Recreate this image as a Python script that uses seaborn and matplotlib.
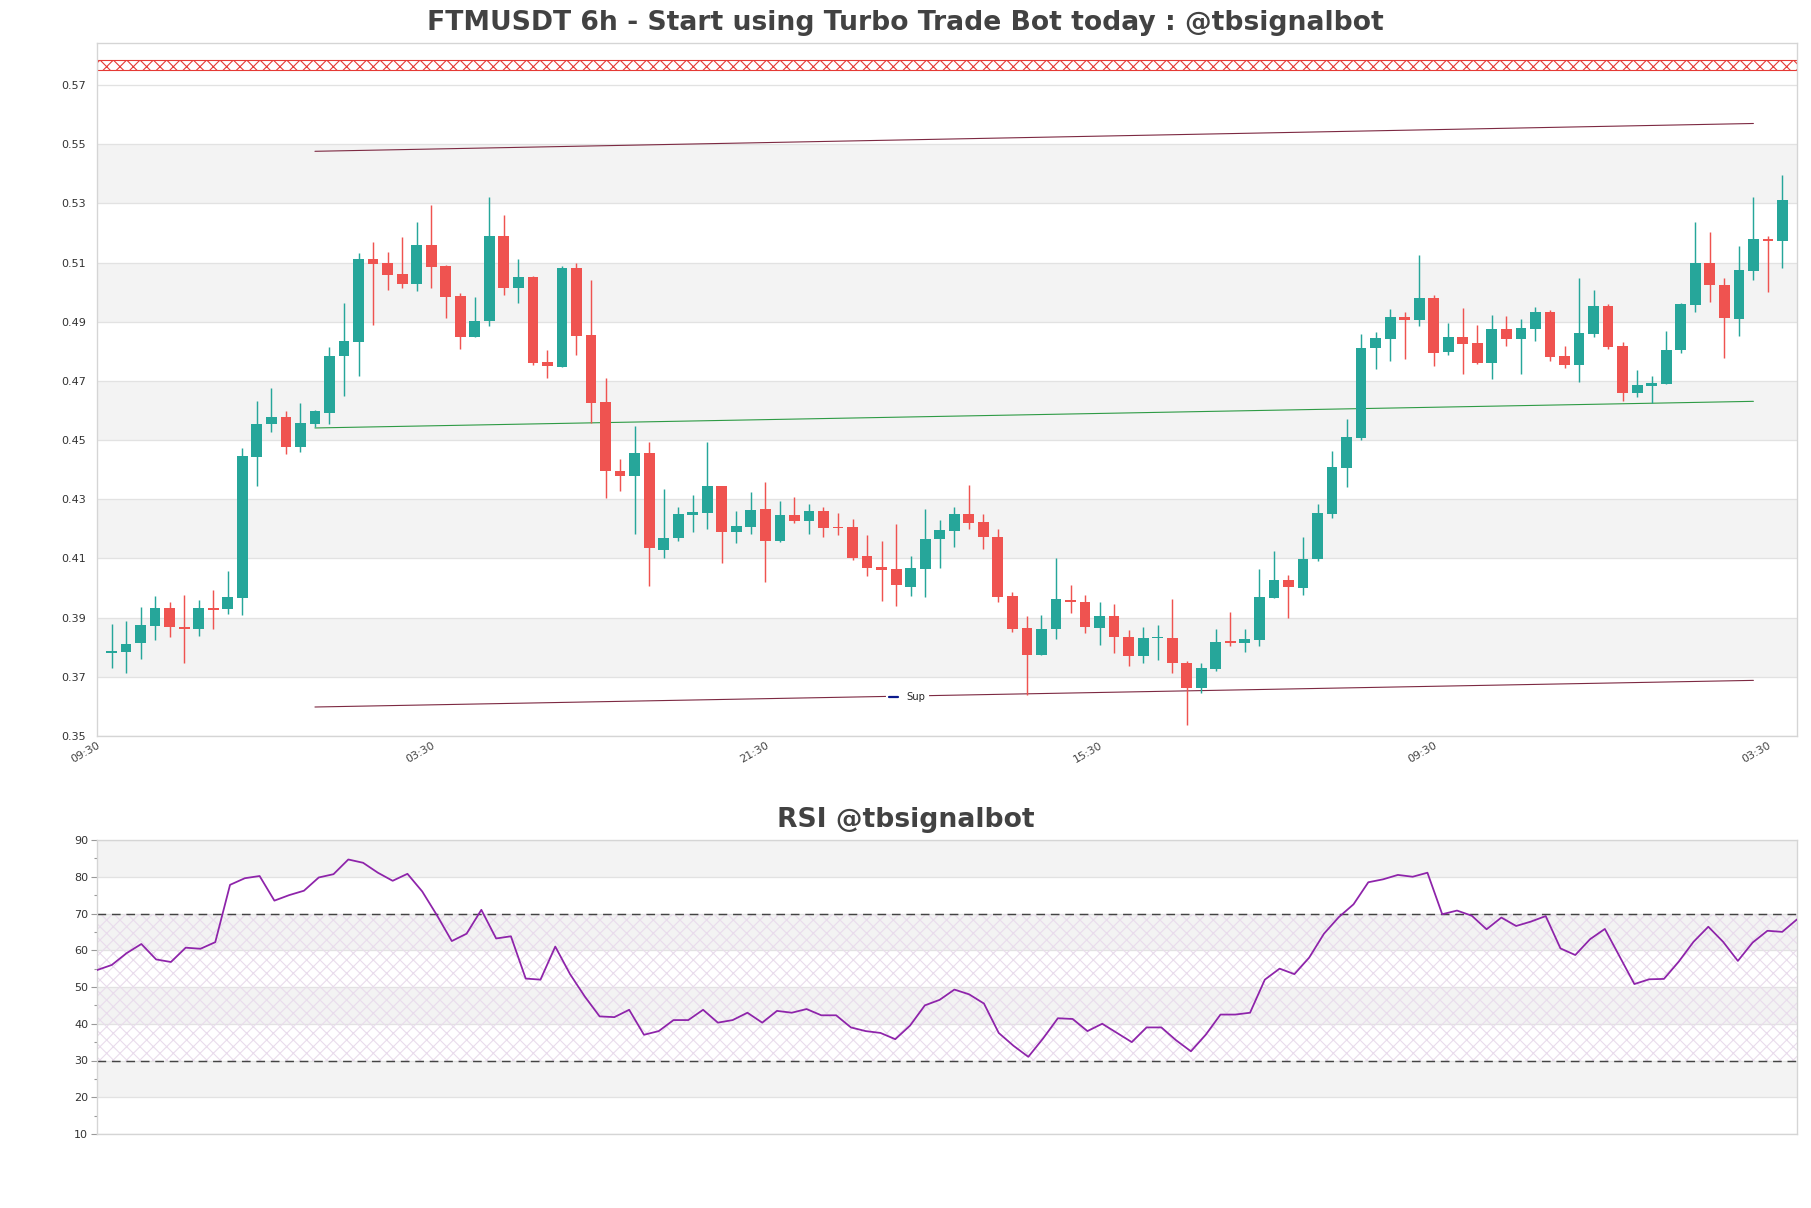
import numpy as np
import pandas as pd
import matplotlib
matplotlib.use("Agg")
import matplotlib.pyplot as plt
import seaborn as sns

sns.set_theme(style="white")
plt.rcParams['font.family'] = ['DejaVu Sans']

# ---------------- data ----------------
opens = [0.3779, 0.3785, 0.3813, 0.3873, 0.3931, 0.3870, 0.3860, 0.3933, 0.3928, 0.3968,
         0.4444, 0.4553, 0.4579, 0.4475, 0.4555, 0.4593, 0.4783, 0.4833, 0.5113, 0.5099,
         0.5061, 0.5029, 0.5160, 0.5089, 0.4988, 0.4850, 0.4903, 0.5190, 0.5013, 0.5051,
         0.4764, 0.4748, 0.5081, 0.4855, 0.4629, 0.4396, 0.4380, 0.4456, 0.4130, 0.4168,
         0.4248, 0.4255, 0.4345, 0.4191, 0.4206, 0.4268, 0.4160, 0.4248, 0.4225, 0.4260,
         0.4206, 0.4206, 0.4109, 0.4071, 0.4063, 0.4005, 0.4066, 0.4165, 0.4194, 0.4250,
         0.4223, 0.4173, 0.3974, 0.3865, 0.3775, 0.3860, 0.3960, 0.3953, 0.3866, 0.3905,
         0.3835, 0.3769, 0.3830, 0.3830, 0.3748, 0.3663, 0.3728, 0.3821, 0.3813, 0.3825,
         0.3968, 0.4028, 0.4000, 0.4099, 0.4250, 0.4406, 0.4508, 0.4811, 0.4841, 0.4916,
         0.4906, 0.4980, 0.4798, 0.4850, 0.4829, 0.4760, 0.4875, 0.4840, 0.4876, 0.4934,
         0.4784, 0.4755, 0.4860, 0.4954, 0.4818, 0.4660, 0.4683, 0.4690, 0.4803, 0.4958,
         0.5099, 0.5024, 0.4910, 0.5073, 0.5180, 0.5173]
highs = [0.3879, 0.3889, 0.3936, 0.3974, 0.3953, 0.3975, 0.3959, 0.3994, 0.4058, 0.4473,
         0.4633, 0.4676, 0.4600, 0.4624, 0.4603, 0.4816, 0.4964, 0.5131, 0.5169, 0.5136,
         0.5186, 0.5238, 0.5295, 0.5092, 0.4998, 0.4984, 0.5320, 0.5261, 0.5113, 0.5056,
         0.4805, 0.5089, 0.5098, 0.5041, 0.4710, 0.4436, 0.4548, 0.4494, 0.4335, 0.4275,
         0.4313, 0.4494, 0.4345, 0.4259, 0.4325, 0.4359, 0.4294, 0.4309, 0.4284, 0.4275,
         0.4254, 0.4235, 0.4180, 0.4160, 0.4218, 0.4109, 0.4268, 0.4230, 0.4275, 0.4349,
         0.4250, 0.4200, 0.3985, 0.3905, 0.3908, 0.4101, 0.4010, 0.3975, 0.3953, 0.3945,
         0.3859, 0.3869, 0.3875, 0.3963, 0.3754, 0.3748, 0.3861, 0.3920, 0.3861, 0.4063,
         0.4126, 0.4044, 0.4173, 0.4284, 0.4463, 0.4571, 0.4860, 0.4865, 0.4943, 0.4934,
         0.5125, 0.4990, 0.4896, 0.4946, 0.4888, 0.4923, 0.4920, 0.4909, 0.4950, 0.4940,
         0.4818, 0.5048, 0.5008, 0.4960, 0.4831, 0.4738, 0.4716, 0.4869, 0.4964, 0.5238,
         0.5204, 0.5048, 0.5156, 0.5320, 0.5190, 0.5396]
lows = [0.3731, 0.3714, 0.3761, 0.3825, 0.3833, 0.3746, 0.3839, 0.3863, 0.3913, 0.3910,
        0.4345, 0.4528, 0.4454, 0.4461, 0.4545, 0.4553, 0.4650, 0.4715, 0.4888, 0.5006,
        0.5015, 0.5003, 0.5013, 0.4913, 0.4809, 0.4850, 0.4884, 0.4991, 0.4964, 0.4755,
        0.4711, 0.4748, 0.4789, 0.4558, 0.4306, 0.4329, 0.4184, 0.4006, 0.4103, 0.4159,
        0.4188, 0.4198, 0.4086, 0.4153, 0.4184, 0.4019, 0.4156, 0.4221, 0.4184, 0.4173,
        0.4180, 0.4096, 0.4040, 0.3956, 0.3941, 0.3973, 0.3971, 0.4068, 0.4140, 0.4198,
        0.4131, 0.3953, 0.3850, 0.3638, 0.3773, 0.3829, 0.3916, 0.3848, 0.3809, 0.3779,
        0.3735, 0.3746, 0.3756, 0.3713, 0.3538, 0.3646, 0.3719, 0.3803, 0.3784, 0.3803,
        0.3968, 0.3900, 0.3975, 0.4090, 0.4238, 0.4340, 0.4500, 0.4740, 0.4768, 0.4775,
        0.4886, 0.4750, 0.4788, 0.4725, 0.4758, 0.4708, 0.4818, 0.4725, 0.4835, 0.4768,
        0.4744, 0.4696, 0.4850, 0.4809, 0.4633, 0.4644, 0.4625, 0.4688, 0.4794, 0.4934,
        0.4968, 0.4779, 0.4853, 0.5040, 0.4999, 0.5083]
closes = [0.3788, 0.3811, 0.3875, 0.3931, 0.3869, 0.3860, 0.3931, 0.3926, 0.3969, 0.4446,
          0.4555, 0.4579, 0.4478, 0.4558, 0.4599, 0.4784, 0.4835, 0.5113, 0.5096, 0.5059,
          0.5029, 0.5160, 0.5086, 0.4985, 0.4850, 0.4903, 0.5190, 0.5015, 0.5051, 0.4760,
          0.4750, 0.5081, 0.4853, 0.4626, 0.4394, 0.4380, 0.4456, 0.4134, 0.4168, 0.4250,
          0.4256, 0.4345, 0.4190, 0.4210, 0.4265, 0.4160, 0.4248, 0.4225, 0.4260, 0.4204,
          0.4203, 0.4100, 0.4069, 0.4060, 0.4009, 0.4068, 0.4166, 0.4196, 0.4250, 0.4221,
          0.4171, 0.3971, 0.3863, 0.3775, 0.3860, 0.3963, 0.3953, 0.3870, 0.3905, 0.3834,
          0.3771, 0.3830, 0.3832, 0.3748, 0.3663, 0.3730, 0.3819, 0.3815, 0.3828, 0.3970,
          0.4028, 0.4005, 0.4099, 0.4254, 0.4409, 0.4510, 0.4811, 0.4845, 0.4916, 0.4906,
          0.4980, 0.4796, 0.4850, 0.4826, 0.4760, 0.4875, 0.4840, 0.4879, 0.4934, 0.4781,
          0.4755, 0.4863, 0.4954, 0.4816, 0.4660, 0.4686, 0.4693, 0.4805, 0.4960, 0.5099,
          0.5023, 0.4914, 0.5075, 0.5180, 0.5173, 0.5311]

rsi = [54.6, 56.0, 59.2, 61.7, 57.5, 56.8, 60.7, 60.4, 62.2, 77.8,
       79.6, 80.2, 73.5, 75.0, 76.2, 79.8, 80.7, 84.7, 83.8, 81.1,
       78.9, 80.8, 76.0, 69.5, 62.5, 64.5, 71.0, 63.2, 63.8, 52.3,
       52.0, 61.0, 53.5, 47.4, 42.0, 41.8, 43.8, 37.0, 38.0, 41.0,
       41.0, 43.8, 40.3, 41.0, 43.0, 40.3, 43.5, 43.0, 44.0, 42.3,
       42.3, 39.0, 38.0, 37.5, 35.8, 39.5, 45.0, 46.5, 49.3, 48.0,
       45.5, 37.5, 34.0, 31.0, 36.0, 41.5, 41.3, 38.0, 40.0, 37.5,
       35.0, 39.0, 39.0, 35.5, 32.5, 37.0, 42.5, 42.5, 43.0, 52.0,
       55.0, 53.5, 58.0, 64.5, 69.0, 72.5, 78.5, 79.3,
       80.5, 80.0, 81.1, 69.8, 70.8, 69.4, 65.7, 68.9, 66.6, 67.8,
       69.3, 60.5, 58.7, 63.0, 65.8, 58.3, 50.8, 52.1, 52.2, 56.9,
       62.3, 66.4, 62.3, 57.1, 62.1, 65.3, 65.0, 68.4]

x_tick_pos = [-1, 22, 45, 68, 91, 114]
x_tick_labels = ["09:30", "03:30", "21:30", "15:30", "09:30", "03:30"]
price_ticks = [0.35, 0.37, 0.39, 0.41, 0.43, 0.45, 0.47, 0.49, 0.51, 0.53, 0.55, 0.57]
rsi_ticks = [10, 20, 30, 40, 50, 60, 70, 80, 90]

trend_x = [14, 113]
resistance = [0.5476, 0.5570]
mid_line = [0.4541, 0.4631]
support = [0.3598, 0.3688]
red_zone = (0.5752, 0.5784)

# ---------------- figure ----------------
W, H = 1811, 1208
fig = plt.figure(figsize=(W / 80, H / 80), dpi=80)
fig.patch.set_facecolor("white")
ax = fig.add_axes([97 / W, 1 - 736 / H, 1700 / W, 693 / H])
ax2 = fig.add_axes([97 / W, 1 - 1134 / H, 1700 / W, 294 / H])

GRID = "#e2e2e2"
BAND = "#f3f3f3"
SPINE = "#d5d5d5"
TXT = "#424242"

# ---- price panel ----
ax.set_facecolor("white")
for k in range(len(price_ticks) - 1):
    if k % 2 == 1:
        ax.axhspan(price_ticks[k], price_ticks[k + 1], color=BAND, lw=0, zorder=0)
for t in price_ticks:
    ax.axhline(t, color=GRID, lw=1.2, zorder=1)

o = np.array(opens); h = np.array(highs); l = np.array(lows); c = np.array(closes)
idx = np.arange(len(o))
up = c >= o
cols = np.where(up, "#26a69a", "#ef5350")
ax.vlines(idx, l, h, colors=cols, linewidth=1.3, zorder=3)
body = np.maximum(np.abs(c - o), 0.0003)
ax.bar(idx, body, bottom=np.minimum(o, c), width=0.74, color=cols, linewidth=0, zorder=4)

tl = pd.DataFrame({"x": trend_x, "res": resistance, "mid": mid_line, "sup": support})
sns.lineplot(data=tl, x="x", y="res", ax=ax, color="#7d2942", lw=1.0, legend=False, zorder=2)
sns.lineplot(data=tl, x="x", y="mid", ax=ax, color="#2e9b45", lw=1.0, legend=False, zorder=2)
sns.lineplot(data=tl, x="x", y="sup", ax=ax, color="#7d2942", lw=1.0, legend=False, zorder=2)

ax.axhspan(red_zone[0], red_zone[1], facecolor="none", edgecolor="#e53935",
           hatch="xx", lw=1.0, zorder=2)

ax.plot([], [], color="#0b1a8c", lw=2, label="Sup")
leg = ax.legend(loc="center", bbox_to_anchor=(0.4765, 0.056), fontsize=9,
                frameon=True, facecolor="white", edgecolor="white", framealpha=1,
                handlelength=0.9, handletextpad=0.8, borderpad=0.3, fancybox=False)
leg.set_zorder(5)

ax.set_xlim(-1, 116)
ax.set_ylim(0.35, 0.5842)
ax.set_yticks(price_ticks)
ax.set_yticklabels([f"{t:.2f}" for t in price_ticks])
ax.set_xticks(x_tick_pos)
ax.set_xticklabels(x_tick_labels, rotation=30, ha="right", rotation_mode="anchor")
ax.tick_params(axis="y", length=0, pad=10, labelsize=10, labelcolor="#333333")
ax.tick_params(axis="x", length=0, pad=4, labelsize=10, labelcolor="#444444")
ax.set_xlabel(""); ax.set_ylabel("")
for s in ax.spines.values():
    s.set_color(SPINE); s.set_linewidth(1.2)
ax.grid(False)
fig.text(0.5, 1 - 23 / H,
         "FTMUSDT 6h - Start using Turbo Trade Bot today : @tbsignalbot",
         ha="center", va="center", fontsize=24, fontweight="bold", color=TXT)

# ---- RSI panel ----
ax2.set_facecolor("white")
for k in range(len(rsi_ticks) - 1):
    if k % 2 == 1:
        ax2.axhspan(rsi_ticks[k], rsi_ticks[k + 1], color=BAND, lw=0, zorder=0)
for t in rsi_ticks:
    ax2.axhline(t, color=GRID, lw=1.2, zorder=1)
ax2.axhspan(30, 70, facecolor="none", edgecolor="#e9dcec", hatch="xx", lw=0, zorder=1)
ax2.axhline(70, color="#444444", lw=1.3, ls=(0, (6, 4)), zorder=2)
ax2.axhline(30, color="#444444", lw=1.3, ls=(0, (6, 4)), zorder=2)

rd = pd.DataFrame({"i": np.arange(len(rsi)), "rsi": rsi})
sns.lineplot(data=rd, x="i", y="rsi", ax=ax2, color="#8e24aa", lw=1.6, legend=False, zorder=3)
ax2.set_xlim(0, len(rsi) - 1)
ax2.set_ylim(10, 90)
ax2.set_yticks(rsi_ticks)
ax2.set_yticks([15, 25, 35, 45, 55, 65, 75, 85], minor=True)
ax2.set_xticks([])
ax2.tick_params(axis="y", which="major", length=5, width=1, color="#999999", pad=3,
                labelsize=10, labelcolor="#333333", left=True)
ax2.tick_params(axis="y", which="minor", length=3, width=1, color="#999999", left=True)
ax2.set_xlabel(""); ax2.set_ylabel("")
for s in ax2.spines.values():
    s.set_color(SPINE); s.set_linewidth(1.2)
ax2.grid(False)
fig.text(0.5, 1 - 820 / H, "RSI @tbsignalbot",
         ha="center", va="center", fontsize=24, fontweight="bold", color=TXT)

fig.savefig("out.png", dpi=80, facecolor="white")
